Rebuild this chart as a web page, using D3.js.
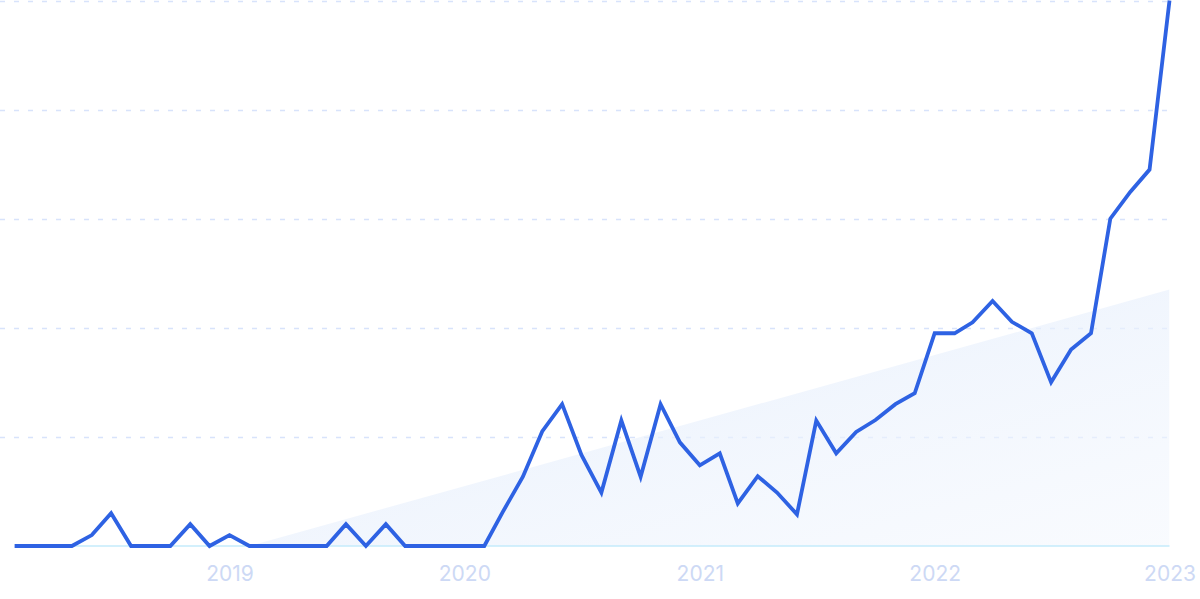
<!DOCTYPE html>
<html>
<head>
<meta charset="utf-8">
<script src="https://cdn.jsdelivr.net/npm/d3@7"></script>
<style>
  html, body { margin: 0; padding: 0; background: #ffffff; }
  svg { display: block; }
</style>
</head>
<body>
<svg id="chart" width="1200" height="599"></svg>
<script>
// ---- data ----
const startMonth = "2018-02";
const endMonth = "2023-01";
const values = [
  0, 0, 0, 0, 2, 6, 0, 0, 0, 4, 0, 2,
  0, 0, 0, 0, 0, 4, 0, 4, 0, 0, 0, 0,
  0, 6.3, 12.7, 21, 26, 16.7, 9.8, 23, 12.7, 26, 19, 14.8,
  17, 7.8, 12.8, 9.8, 5.8, 23, 17, 20.9, 23.1, 26, 28, 39,
  39, 41, 44.9, 41.1, 39, 30, 36, 39, 60, 64.9, 69, 100
];
const trendStart = -12;
const trendEnd = 47;
const yTicks = [0, 20, 40, 60, 80, 100];
const xTickLabels = ["2019", "2020", "2021", "2022", "2023"];

// ---- build ----
(function () {
const parse = d3.timeParse("%Y-%m");
const months = d3.timeMonth.range(parse(startMonth), d3.timeMonth.offset(parse(endMonth), 1));
const series = months.map((d, i) => ({ date: d, value: values[i] }));
const trend = [
  { date: months[0], value: trendStart },
  { date: months[months.length - 1], value: trendEnd }
];

const svg = d3.select("#chart");
const mLeft = 15, mRight = 1169.5, mTop = 0.5, mBottom = 546;

const x = d3.scaleTime()
  .domain([parse("2019-01"), parse("2023-01")])
  .range([229.5, 1169.5]);
const y = d3.scaleLinear().domain([0, 100]).range([mBottom, mTop]);

const defs = svg.append("defs");
const grad = defs.append("linearGradient")
  .attr("id", "trendFill")
  .attr("x1", "0").attr("y1", "0").attr("x2", "1").attr("y2", "1");
grad.append("stop").attr("offset", "0%").attr("stop-color", "#dde9fb").attr("stop-opacity", 0.85);
grad.append("stop").attr("offset", "100%").attr("stop-color", "#f6f9fe").attr("stop-opacity", 0.5);

defs.append("clipPath").attr("id", "plotClip")
  .append("rect")
  .attr("x", 0).attr("y", 0)
  .attr("width", mRight).attr("height", mBottom);

// gridlines
svg.append("g")
  .selectAll("line")
  .data(yTicks.filter(t => t > 0))
  .join("line")
  .attr("x1", 0).attr("x2", mRight)
  .attr("y1", d => Math.round(y(d)) + 0.5)
  .attr("y2", d => Math.round(y(d)) + 0.5)
  .attr("stroke", "#d8e3fb")
  .attr("stroke-width", 1.3)
  .attr("stroke-dasharray", "5,9");

// trend area
const trendArea = d3.area()
  .x(d => x(d.date))
  .y0(y(0))
  .y1(d => y(d.value));
svg.append("path")
  .datum(trend)
  .attr("clip-path", "url(#plotClip)")
  .attr("d", trendArea)
  .attr("fill", "url(#trendFill)");

// baseline
svg.append("line")
  .attr("x1", mLeft).attr("x2", mRight)
  .attr("y1", mBottom).attr("y2", mBottom)
  .attr("stroke", "#c5ebfb")
  .attr("stroke-width", 1.5);

// x axis labels
const xAxis = d3.axisBottom(x)
  .tickValues(xTickLabels.map(s => d3.timeParse("%Y")(s)))
  .tickFormat(d3.timeFormat("%Y"))
  .tickSize(0)
  .tickPadding(0);
const gx = svg.append("g").attr("transform", `translate(0,${mBottom})`).call(xAxis);
gx.select(".domain").remove();
gx.selectAll("text")
  .attr("y", 35)
  .attr("dy", 0)
  .attr("fill", "#cdd9f5")
  .style("font-family", "Inter, 'Noto Sans', sans-serif")
  .style("font-size", "21px");

// main line
const line = d3.line()
  .x(d => x(d.date))
  .y(d => y(d.value));
svg.append("path")
  .datum(series)
  .attr("d", line)
  .attr("fill", "none")
  .attr("stroke", "#2e62e3")
  .attr("stroke-width", 3.8)
  .attr("stroke-linejoin", "miter")
  .attr("stroke-miterlimit", 4);
})();
</script>
</body>
</html>
